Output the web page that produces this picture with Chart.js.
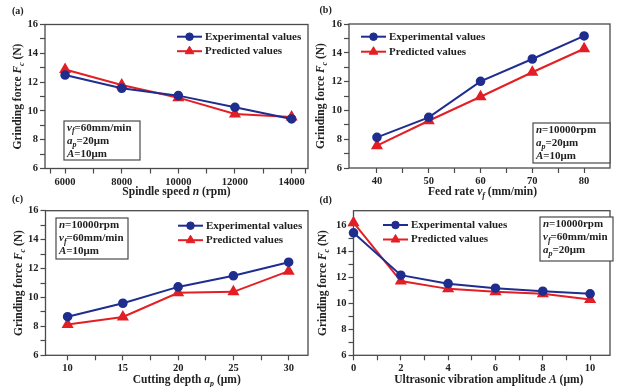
<!DOCTYPE html>
<html>
<head>
<meta charset="utf-8">
<script src="https://cdn.jsdelivr.net/npm/chart.js@4.4.1/dist/chart.umd.min.js"></script>
<style>
  body { margin: 0; background: #fff; }
  #wrap { position: relative; width: 617px; height: 387px; overflow: hidden; background: #fff; }
  #wrap canvas { position: absolute; left: 0; top: 0; }
</style>
</head>
<body>
<div id="wrap">
  <canvas id="chartA" width="617" height="387"></canvas>
  <canvas id="chartB" width="617" height="387"></canvas>
  <canvas id="chartC" width="617" height="387"></canvas>
  <canvas id="chartD" width="617" height="387"></canvas>
</div>
<script>
// (a) spindle speed
var spindleSpeed = [6000, 8000, 10000, 12000, 14000];
var expA = [12.49, 11.57, 11.06, 10.25, 9.44];
var predA = [12.88, 11.8, 10.92, 9.78, 9.58];
var xTicksA = [5500, 6000, 7000, 8000, 9000, 10000, 11000, 12000, 13000, 14000, 14500];
var xLabelsA = [6000, 8000, 10000, 12000, 14000];

// (b) feed rate
var feedRate = [40, 50, 60, 70, 80];
var expB = [8.13, 9.52, 12.02, 13.57, 15.17];
var predB = [7.55, 9.28, 10.95, 12.65, 14.28];
var xTicksB = [40, 45, 50, 55, 60, 65, 70, 75, 80];
var xLabelsB = [40, 50, 60, 70, 80];

// (c) cutting depth
var cutDepth = [10, 15, 20, 25, 30];
var expC = [8.67, 9.6, 10.73, 11.5, 12.44];
var predC = [8.13, 8.65, 10.32, 10.39, 11.82];
var xTicksC = [10, 12.5, 15, 17.5, 20, 22.5, 25, 27.5, 30];
var xLabelsC = [10, 15, 20, 25, 30];

// (d) vibration amplitude
var amplitude = [0, 2, 4, 6, 8, 10];
var expD = [15.4, 12.15, 11.5, 11.15, 10.92, 10.72];
var predD = [16.18, 11.7, 11.1, 10.87, 10.72, 10.28];
var xTicksD = [0, 1, 2, 3, 4, 5, 6, 7, 8, 9, 10];
var xLabelsD = [0, 2, 4, 6, 8, 10];

var yTicks = [6, 7, 8, 9, 10, 11, 12, 13, 14, 15, 16];
var yLabels = [6, 8, 10, 12, 14, 16];

var seriesNames = ['Experimental values', 'Predicted values'];

var BLUE = '#1f2d8f';
var RED = '#e31e24';
var AXIS = '#4a4a4a';
var TXT = '#222';
var SERIF = '"Liberation Serif", "Times New Roman", serif';

// text pieces: [text, style]  n = normal, i = italic, s = italic subscript
var yTitle = [['Grinding force ', 'n'], ['F', 'i'], ['c', 's'], [' (N)', 'n']];
var lnN = [['n', 'i'], ['=10000rpm', 'n']];
var lnVf = [['v', 'i'], ['f', 's'], ['=60mm/min', 'n']];
var lnAp = [['a', 'i'], ['p', 's'], ['=20\u03bcm', 'n']];
var lnA = [['A', 'i'], ['=10\u03bcm', 'n']];

function fontFor(style, size) {
  var s = style === 's' ? Math.round(size * 0.72) : size;
  var it = (style === 'i' || style === 's') ? 'italic ' : '';
  return it + 'bold ' + s + 'px ' + SERIF;
}

function richWidth(ctx, segs, size) {
  var w = 0;
  segs.forEach(function (s) {
    ctx.font = fontFor(s[1], size);
    w += ctx.measureText(s[0]).width;
  });
  return w;
}

function drawRich(ctx, segs, x, y, size, align) {
  var cx = align === 'center' ? x - richWidth(ctx, segs, size) / 2 : x;
  ctx.textAlign = 'left';
  ctx.textBaseline = 'middle';
  segs.forEach(function (s) {
    ctx.font = fontFor(s[1], size);
    var dy = s[1] === 's' ? size * 0.3 : 0;
    ctx.fillText(s[0], cx, y + dy);
    cx += ctx.measureText(s[0]).width;
  });
}

function drawMarker(ctx, style, x, y, r) {
  ctx.beginPath();
  if (style === 'triangle') {
    var rad = 0;
    for (var k = 0; k < 3; k++) {
      var px = x + Math.sin(rad) * r, py = y - Math.cos(rad) * r;
      if (k === 0) ctx.moveTo(px, py); else ctx.lineTo(px, py);
      rad += Math.PI * 2 / 3;
    }
    ctx.closePath();
  } else {
    ctx.arc(x, y, r, 0, Math.PI * 2);
  }
  ctx.fill();
  ctx.stroke();
}

var panelDeco = {
  id: 'panelDeco',
  beforeDatasetsDraw: function (chart) {
    var ctx = chart.ctx, a = chart.chartArea;
    ctx.save();
    ctx.strokeStyle = AXIS;
    ctx.lineWidth = 1.3;
    ctx.strokeRect(a.left, a.top, a.right - a.left, a.bottom - a.top);
    ctx.restore();
  },
  afterDraw: function (chart, args, o) {
    var ctx = chart.ctx, a = chart.chartArea;
    ctx.save();
    ctx.fillStyle = TXT;

    // panel tag
    ctx.font = 'bold 10px ' + SERIF;
    ctx.textBaseline = 'middle';
    ctx.textAlign = 'left';
    ctx.fillText(o.tag, o.tagX, o.tagY);

    // axis titles
    drawRich(ctx, o.xTitle, (a.left + a.right) / 2 + o.xTitleShift, o.xTitleY, 11.5, 'center');
    ctx.save();
    ctx.translate(o.yTitleX, (a.top + a.bottom) / 2);
    ctx.rotate(-Math.PI / 2);
    drawRich(ctx, yTitle, 0, 0, 11.5, 'center');
    ctx.restore();

    // legend
    chart.data.datasets.forEach(function (ds, i) {
      var y = o.legY + i * o.legGap;
      ctx.strokeStyle = ds.borderColor;
      ctx.lineWidth = 2;
      ctx.beginPath();
      ctx.moveTo(o.legX, y);
      ctx.lineTo(o.legX + 25, y);
      ctx.stroke();
      ctx.fillStyle = ds.pointBackgroundColor;
      ctx.strokeStyle = ds.pointBorderColor;
      ctx.lineWidth = 1;
      drawMarker(ctx, ds.pointStyle, o.legX + 12.5, y, ds.pointRadius);
      ctx.fillStyle = TXT;
      drawRich(ctx, [[ds.label, 'n']], o.legX + 28, y, 11, 'left');
    });

    // condition box
    var b = o.box;
    ctx.fillStyle = '#fff';
    ctx.fillRect(b.x, b.y, b.w, b.h);
    ctx.strokeStyle = AXIS;
    ctx.lineWidth = 1.2;
    ctx.strokeRect(b.x, b.y, b.w, b.h);
    ctx.fillStyle = TXT;
    b.lines.forEach(function (ln, i) {
      drawRich(ctx, ln, b.x + 3, b.y + 7 + i * 13.2, 11, 'left');
    });
    ctx.restore();
  }
};

function makePanel(id, xs, exp, pred, xTicks, xLabels, xMin, xMax, yMax, deco) {
  var ar = deco.area;
  var tickFont = { family: SERIF, size: 10.5, weight: 'bold' };
  var pts = function (vals) { return xs.map(function (x, i) { return { x: x, y: vals[i] }; }); };
  return new Chart(document.getElementById(id), {
    type: 'line',
    data: {
      datasets: [{
        label: seriesNames[0],
        data: pts(exp),
        borderColor: BLUE,
        backgroundColor: BLUE,
        pointBackgroundColor: BLUE,
        pointBorderColor: BLUE,
        pointStyle: 'circle',
        pointRadius: 3.8,
        borderWidth: 2,
        tension: 0,
        clip: false
      }, {
        label: seriesNames[1],
        data: pts(pred),
        borderColor: RED,
        backgroundColor: RED,
        pointBackgroundColor: RED,
        pointBorderColor: RED,
        pointStyle: 'triangle',
        pointRadius: 5,
        borderWidth: 2,
        tension: 0,
        clip: false
      }]
    },
    options: {
      responsive: false,
      animation: false,
      events: [],
      layout: {
        padding: { left: ar.left - 40, top: ar.top, right: 617 - ar.right, bottom: 387 - ar.bottom - 22 }
      },
      plugins: {
        legend: { display: false },
        tooltip: { enabled: false },
        panelDeco: deco
      },
      scales: {
        x: {
          type: 'linear',
          min: xMin,
          max: xMax,
          afterBuildTicks: function (s) { s.ticks = xTicks.map(function (v) { return { value: v }; }); },
          afterFit: function (s) { s.height = 22; },
          ticks: {
            autoSkip: false, maxRotation: 0, padding: 2, color: TXT, font: tickFont,
            callback: function (v) { return xLabels.indexOf(v) >= 0 ? String(v) : ''; }
          },
          grid: { drawOnChartArea: false, tickLength: 5, tickColor: AXIS, tickWidth: 1.2 },
          border: { display: false }
        },
        y: {
          min: 6,
          max: yMax,
          afterBuildTicks: function (s) { s.ticks = yTicks.map(function (v) { return { value: v }; }); },
          afterFit: function (s) { s.width = 40; },
          ticks: {
            autoSkip: false, padding: 2, color: TXT, font: tickFont,
            callback: function (v) { return yLabels.indexOf(v) >= 0 ? String(v) : ''; }
          },
          grid: { drawOnChartArea: false, tickLength: 5, tickColor: AXIS, tickWidth: 1.2 },
          border: { display: false }
        }
      }
    },
    plugins: [panelDeco]
  });
}

makePanel('chartA', spindleSpeed, expA, predA, xTicksA, xLabelsA, 5290, 14580, 16, {
  area: { left: 45, top: 24.5, right: 308, bottom: 168.5 },
  tag: '(a)', tagX: 12, tagY: 11.5,
  xTitle: [['Spindle speed ', 'n'], ['n', 'i'], [' (rpm)', 'n']], xTitleShift: 0, xTitleY: 192,
  yTitleX: 18.5,
  legX: 177, legY: 36.7, legGap: 14.5,
  box: { x: 64, y: 121, w: 76, h: 39, lines: [lnVf, lnAp, lnA] }
});

makePanel('chartB', feedRate, expB, predB, xTicksB, xLabelsB, 34.6, 85, 16, {
  area: { left: 349, top: 24, right: 614.5, bottom: 168 },
  tag: '(b)', tagX: 319.5, tagY: 10.5,
  xTitle: [['Feed rate ', 'n'], ['v', 'i'], ['f', 's'], [' (mm/min)', 'n']], xTitleShift: 3, xTitleY: 192,
  yTitleX: 321,
  legX: 361, legY: 36.7, legGap: 15,
  box: { x: 533, y: 123, w: 77, h: 40, lines: [lnN, lnAp, lnA] }
});

makePanel('chartC', cutDepth, expC, predC, xTicksC, xLabelsC, 8.0, 31.75, 16, {
  area: { left: 45.5, top: 210.7, right: 308, bottom: 355.3 },
  tag: '(c)', tagX: 12, tagY: 199.5,
  xTitle: [['Cutting depth ', 'n'], ['a', 'i'], ['p', 's'], [' (\u03bcm)', 'n']], xTitleShift: 10, xTitleY: 380,
  yTitleX: 19,
  legX: 178, legY: 225.7, legGap: 14.5,
  box: { x: 56, y: 218, w: 72, h: 41, lines: [lnN, lnVf, lnA] }
});

makePanel('chartD', amplitude, expD, predD, xTicksD, xLabelsD, 0, 10.84, 17.1, {
  area: { left: 353.5, top: 210.7, right: 614.5, bottom: 355.3 },
  tag: '(d)', tagX: 319.5, tagY: 200,
  xTitle: [['Ultrasonic vibration amplitude ', 'n'], ['A', 'i'], [' (\u03bcm)', 'n']], xTitleShift: 7, xTitleY: 380.5,
  yTitleX: 323.5,
  legX: 383, legY: 225, legGap: 14.5,
  box: { x: 540, y: 217, w: 73, h: 44, lines: [lnN, lnVf, lnAp] }
});
</script>
</body>
</html>
